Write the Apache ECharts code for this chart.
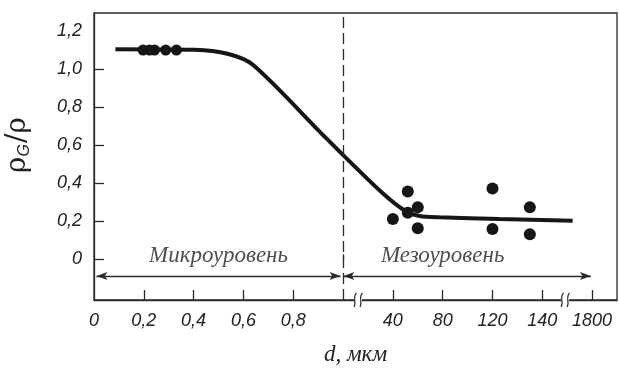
<!DOCTYPE html>
<html>
<head>
<meta charset="utf-8">
<script src="https://cdn.jsdelivr.net/npm/echarts@6/dist/echarts.min.js"></script>
<style>
  html, body { margin: 0; padding: 0; background: #fff; }
  #chart { width: 619px; height: 374px; }
</style>
</head>
<body>
<div id="chart"></div>
<script>
// Grain size d (µm) and relative density ρG/ρ
// Micro-level measurements
const microD = [0.197, 0.223, 0.243, 0.288, 0.331];
const microRho = [1.10, 1.10, 1.10, 1.10, 1.10];

// Meso-level measurements
const mesoD = [40, 52, 52, 60, 60, 120, 120, 135, 135];
const mesoRho = [0.212, 0.356, 0.245, 0.274, 0.163, 0.372, 0.159, 0.274, 0.132];

// Fitted trend curve
const curveD = [0.086, 0.404, 0.536, 0.638, 0.932, 32.1, 50.7, 61.4, 77.4, 122.8, 1153];
const curveRho = [1.105, 1.102, 1.081, 1.023, 0.637, 0.347, 0.251, 0.228, 0.221, 0.212, 0.203];

// Broken d-axis: knots of the piecewise-linear scale (value -> axis slot)
const scaleD = [0, 1, 40, 120, 140, 1800];
const scaleSlot = [0, 5, 6, 8, 9, 10];

// Tick labels of the d-axis
const xTickD = [0, 0.2, 0.4, 0.6, 0.8, 40, 80, 120, 140, 1800];
const xTickText = ['0', '0,2', '0,4', '0,6', '0,8', '40', '80', '120', '140', '1800'];
const xTickMarksD = [0.2, 0.4, 0.6, 0.8, 40, 80, 120, 140, 1800];
const xBreaksD = [12.7, 900];

// ρG/ρ axis
const yLabelVals = [0, 0.2, 0.4, 0.6, 0.8, 1.0, 1.2];
const yTickVals = [0, 0.2, 0.4, 0.6, 0.8, 1.0];

// Regions
const regionNames = ['Микроуровень', 'Мезоуровень'];
const regionSpanD = [[0.01, 0.99], [1.3, 1760]];
const regionLabelD = [0.5, 80];

function toSlot(d) {
  for (let i = 1; i < scaleD.length; i++) {
    if (d <= scaleD[i] || i === scaleD.length - 1) {
      const t = (d - scaleD[i - 1]) / (scaleD[i] - scaleD[i - 1]);
      return scaleSlot[i - 1] + t * (scaleSlot[i] - scaleSlot[i - 1]);
    }
  }
}

const ink = '#161616';
const tickFont = { fontFamily: 'Liberation Sans', fontStyle: 'italic', fontSize: 18, color: '#222' };
const serifItalic = { fontFamily: 'Liberation Serif', fontStyle: 'italic', fontSize: 23, color: '#222' };

const slotLabel = {};
xTickD.forEach((d, i) => { slotLabel[toSlot(d).toFixed(3)] = xTickText[i]; });

const arrowY = -0.088;

const chart = echarts.init(document.getElementById('chart'), null, { renderer: 'canvas' });

const option = {
  animation: false,
  backgroundColor: '#fff',
  grid: {
    left: 94, top: 13, right: 2, bottom: 74,
    show: true, borderColor: '#2a2a2a', borderWidth: 1.3, backgroundColor: 'transparent'
  },
  xAxis: [{
    type: 'value', min: 0, max: 10.5,
    name: 'd, мкм', nameLocation: 'middle', nameGap: 43,
    nameTextStyle: serifItalic,
    axisLine: { show: true, onZero: false, lineStyle: { color: '#2a2a2a', width: 1.3 } },
    axisTick: { show: true, inside: true, length: 10, lineStyle: { color: '#2a2a2a', width: 1.3 },
                customValues: xTickMarksD.map(toSlot) },
    axisLabel: {
      margin: 12, customValues: xTickD.map(toSlot),
      formatter: v => '{t|' + (slotLabel[v.toFixed(3)] || '') + '}',
      rich: { t: tickFont }
    },
    splitLine: { show: false }
  }, {
    type: 'value', min: 0, max: 10.5, position: 'bottom',
    axisLine: { show: false },
    axisTick: { show: true, inside: true, length: 5, lineStyle: { color: '#2a2a2a', width: 1.3 },
                customValues: [toSlot(1)] },
    axisLabel: { show: false },
    splitLine: { show: false }
  }],
  yAxis: {
    type: 'value', min: -0.214, max: 1.295,
    axisLine: { show: true, onZero: false, lineStyle: { color: '#2a2a2a', width: 1.3 } },
    axisTick: { show: true, inside: true, length: 10, lineStyle: { color: '#2a2a2a', width: 1.3 },
                customValues: yTickVals },
    axisLabel: {
      margin: 12, customValues: yLabelVals,
      formatter: v => '{t|' + (v === 0 ? '0' : v.toFixed(1).replace('.', ',')) + '}',
      rich: { t: tickFont }
    },
    splitLine: { show: false }
  },
  graphic: [{
    type: 'text', x: 18, y: 145, rotation: Math.PI / 2,
    style: {
      text: '{r|ρ}{s|G}{r|/ρ}',
      align: 'center', verticalAlign: 'middle',
      rich: {
        r: { fontFamily: 'DejaVu Serif', fontSize: 28, fill: '#222' },
        s: { fontFamily: 'Liberation Sans', fontStyle: 'italic', fontSize: 16, fill: '#222', padding: [13, 1, 0, 0] }
      }
    }
  }],
  series: [{
    // trend curve + dividing line + region arrows
    type: 'line', xAxisIndex: 0,
    data: curveD.map((d, i) => [toSlot(d), curveRho[i]]),
    smooth: 0.3, showSymbol: false, symbol: 'none',
    lineStyle: { color: ink, width: 4 },
    z: 3,
    markLine: {
      silent: true, animation: false,
      label: { show: false },
      data: [
        [{ coord: [toSlot(1), -0.214], symbol: 'none', lineStyle: { type: [11, 5], width: 1.3, color: '#2a2a2a' } },
         { coord: [toSlot(1), 1.295], symbol: 'none' }],
        [{ coord: [toSlot(regionSpanD[0][0]), arrowY], symbol: 'arrow' },
         { coord: [toSlot(regionSpanD[0][1]), arrowY], symbol: 'arrow' }],
        [{ coord: [toSlot(regionSpanD[1][0]), arrowY], symbol: 'arrow' },
         { coord: [toSlot(regionSpanD[1][1]), arrowY], symbol: 'arrow' }]
      ],
      symbolSize: [6, 11],
      lineStyle: { type: 'solid', color: '#2a2a2a', width: 1.3 }
    }
  }, {
    type: 'scatter',
    data: microD.map((d, i) => [toSlot(d), microRho[i]]),
    symbol: 'circle', symbolSize: 11,
    itemStyle: { color: ink, opacity: 1 }, z: 4
  }, {
    type: 'scatter',
    data: mesoD.map((d, i) => [toSlot(d), mesoRho[i]]),
    symbol: 'circle', symbolSize: 12,
    itemStyle: { color: ink, opacity: 1 }, z: 4
  }, {
    // region captions
    type: 'scatter', symbolSize: 0, silent: true,
    data: regionNames.map((n, i) => ({ value: [toSlot(regionLabelD[i]), 0.015], name: n })),
    label: Object.assign({ show: true, position: 'inside', formatter: p => p.name }, serifItalic)
  }]
};

chart.setOption(option);

// axis-break marks on the d-axis
function drawBreaks() {
  const els = [];
  xBreaksD.forEach(d => {
    const p = chart.convertToPixel({ xAxisIndex: 0, yAxisIndex: 0 }, [toSlot(d), -0.214]);
    const x = p[0], y = p[1];
    els.push({ type: 'rect', shape: { x: x - 4, y: y - 2, width: 8, height: 4 }, style: { fill: '#fff' }, z: 100 });
    [-3, 3].forEach(dx => {
      const cx = x + dx;
      els.push({
        type: 'bezierCurve',
        shape: { x1: cx + 1.5, y1: y - 7, cpx1: cx - 3, cpy1: y - 3, cpx2: cx + 2, cpy2: y + 3, x2: cx - 1, y2: y + 7 },
        style: { stroke: '#2a2a2a', lineWidth: 1.2, fill: null }, z: 101
      });
    });
  });
  chart.setOption({ graphic: option.graphic.concat(els) });
}
drawBreaks();
</script>
</body>
</html>
